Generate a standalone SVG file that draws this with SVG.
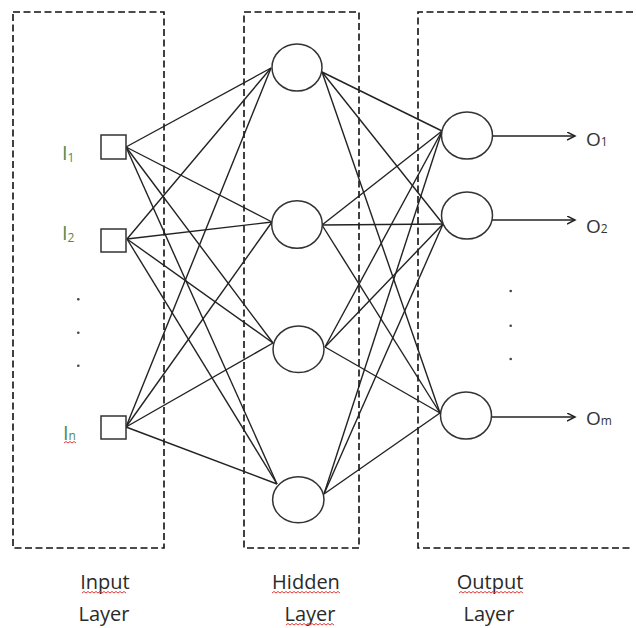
<svg xmlns="http://www.w3.org/2000/svg" width="636" height="628" viewBox="0 0 636 628">
<style>
.box{fill:none;stroke:#111;stroke-width:1.6;stroke-dasharray:7 3.5}
.node{fill:#fff;stroke:#333;stroke-width:1.5}
.conn{stroke:#222;stroke-width:1.4;fill:none}
.lbl{font-family:"Open Sans","Liberation Sans",sans-serif;font-size:20px;fill:#2a2a2a;text-anchor:middle}
.inl{font-family:"Open Sans","Liberation Sans",sans-serif;font-size:20px;fill:#4f8a55}
.outl{font-family:"Open Sans","Liberation Sans",sans-serif;font-size:19px;fill:#333}
.sub{font-size:12px}
.dot{fill:#444}
.squig{fill:none;stroke:#e23a3a;stroke-width:1}
</style>
<defs>
<marker id="arr" markerWidth="10" markerHeight="10" refX="8" refY="4" orient="auto" markerUnits="userSpaceOnUse">
<path d="M0,0 L8,4 L0,8" fill="none" stroke="#222" stroke-width="1.5"/>
</marker>
</defs>
<rect width="636" height="628" fill="#fff"/>

<g id="layer-boxes">
<rect class="box" x="13" y="12" width="151" height="536"/>
<rect class="box" x="244" y="12" width="115" height="536"/>
<path class="box" d="M633,12 H418 V548 H633"/>
</g>

<g id="connectors">
<line class="conn" x1="126" y1="147" x2="271" y2="68"/>
<line class="conn" x1="126" y1="147" x2="272" y2="222"/>
<line class="conn" x1="126" y1="147" x2="273" y2="343"/>
<line class="conn" x1="126" y1="147" x2="277" y2="484"/>
<line class="conn" x1="127" y1="239" x2="271" y2="68"/>
<line class="conn" x1="127" y1="239" x2="272" y2="222"/>
<line class="conn" x1="127" y1="239" x2="273" y2="343"/>
<line class="conn" x1="127" y1="239" x2="277" y2="484"/>
<line class="conn" x1="126" y1="427" x2="271" y2="68"/>
<line class="conn" x1="126" y1="427" x2="272" y2="222"/>
<line class="conn" x1="126" y1="427" x2="273" y2="343"/>
<line class="conn" x1="126" y1="427" x2="277" y2="484"/>
<line class="conn" x1="322" y1="72" x2="442" y2="131"/>
<line class="conn" x1="322" y1="72" x2="443" y2="224"/>
<line class="conn" x1="322" y1="72" x2="440" y2="413"/>
<line class="conn" x1="322" y1="225" x2="442" y2="131"/>
<line class="conn" x1="322" y1="225" x2="443" y2="224"/>
<line class="conn" x1="322" y1="225" x2="440" y2="413"/>
<line class="conn" x1="325" y1="347" x2="442" y2="131"/>
<line class="conn" x1="325" y1="347" x2="443" y2="224"/>
<line class="conn" x1="325" y1="347" x2="440" y2="413"/>
<line class="conn" x1="324" y1="494" x2="442" y2="131"/>
<line class="conn" x1="324" y1="494" x2="443" y2="224"/>
<line class="conn" x1="324" y1="494" x2="440" y2="413"/>
<line class="conn" x1="492" y1="136" x2="575" y2="136" marker-end="url(#arr)"/>
<line class="conn" x1="492" y1="220" x2="575" y2="220" marker-end="url(#arr)"/>
<line class="conn" x1="491" y1="417" x2="575" y2="417" marker-end="url(#arr)"/>
</g>

<g id="input-1"><rect class="node" x="101" y="135" width="25" height="24"/></g>
<g id="input-2"><rect class="node" x="101" y="229" width="25" height="23"/></g>
<g id="input-n"><rect class="node" x="101" y="416" width="25" height="23"/></g>

<g id="hidden-1"><ellipse class="node" cx="297" cy="67.5" rx="25" ry="23.5"/></g>
<g id="hidden-2"><ellipse class="node" cx="297" cy="224.5" rx="25.3" ry="23.8"/></g>
<g id="hidden-3"><ellipse class="node" cx="298.5" cy="349.3" rx="25.5" ry="23.3"/></g>
<g id="hidden-4"><ellipse class="node" cx="298.3" cy="499.7" rx="25.7" ry="23"/></g>

<g id="output-1"><ellipse class="node" cx="467" cy="135.5" rx="25.5" ry="23.5"/></g>
<g id="output-2"><ellipse class="node" cx="467" cy="215.5" rx="25.5" ry="23.5"/></g>
<g id="output-m"><ellipse class="node" cx="466" cy="415.5" rx="25.5" ry="23.5"/></g>

<g id="input-labels">
<text class="inl" x="62" y="160">I<tspan class="sub" dy="2">1</tspan></text>
<text class="inl" x="62" y="240">I<tspan class="sub" dy="2">2</tspan></text>
<text class="inl" x="63" y="440">I<tspan class="sub" dy="0">n</tspan></text>
<circle class="dot" cx="78.3" cy="299.3" r="1.3"/>
<circle class="dot" cx="78.3" cy="332.7" r="1.3"/>
<circle class="dot" cx="78.3" cy="365.7" r="1.3"/>
</g>

<g id="output-labels">
<text class="outl" x="586" y="146">O<tspan class="sub">1</tspan></text>
<text class="outl" x="586" y="233">O<tspan class="sub">2</tspan></text>
<text class="outl" x="586" y="425">O<tspan class="sub">m</tspan></text>
<circle class="dot" cx="510.7" cy="291" r="1.3" fill="#4a6a4a"/>
<circle class="dot" cx="510.7" cy="325.7" r="1.3" fill="#4a6a4a"/>
<circle class="dot" cx="510.7" cy="359" r="1.3" fill="#4a6a4a"/>
</g>

<g id="layer-titles">
<text class="lbl" x="105" y="589">Input</text>
<text class="lbl" x="104" y="621">Layer</text>
<text class="lbl" x="306" y="589" fill="#2f4f3f">Hidden</text>
<text class="lbl" x="310" y="621">Layer</text>
<text class="lbl" x="490" y="589">Output</text>
<text class="lbl" x="489" y="621">Layer</text>
</g>

<g id="spellcheck-marks">
<path class="squig" d="M64,443 l2,-1.5 l2,1.5 l2,-1.5 l2,1.5 l2,-1.5 l2,1.5"/>
<path class="squig" d="M82,593 l2,-1.5 l2,1.5 l2,-1.5 l2,1.5 l2,-1.5 l2,1.5 l2,-1.5 l2,1.5 l2,-1.5 l2,1.5 l2,-1.5 l2,1.5 l2,-1.5 l2,1.5 l2,-1.5 l2,1.5 l2,-1.5 l2,1.5 l2,-1.5 l2,1.5 l2,-1.5 l2,1.5"/>
<path class="squig" d="M272,593 l2,-1.5 l2,1.5 l2,-1.5 l2,1.5 l2,-1.5 l2,1.5 l2,-1.5 l2,1.5 l2,-1.5 l2,1.5 l2,-1.5 l2,1.5 l2,-1.5 l2,1.5 l2,-1.5 l2,1.5 l2,-1.5 l2,1.5 l2,-1.5 l2,1.5 l2,-1.5 l2,1.5 l2,-1.5 l2,1.5 l2,-1.5 l2,1.5 l2,-1.5 l2,1.5 l2,-1.5 l2,1.5 l2,-1.5 l2,1.5 l2,-1.5 l2,1.5"/>
<path class="squig" d="M286,625 l2,-1.5 l2,1.5 l2,-1.5 l2,1.5 l2,-1.5 l2,1.5 l2,-1.5 l2,1.5 l2,-1.5 l2,1.5 l2,-1.5 l2,1.5 l2,-1.5 l2,1.5 l2,-1.5 l2,1.5 l2,-1.5 l2,1.5 l2,-1.5 l2,1.5 l2,-1.5 l2,1.5 l2,-1.5 l2,1.5"/>
<path class="squig" d="M459,593 l2,-1.5 l2,1.5 l2,-1.5 l2,1.5 l2,-1.5 l2,1.5 l2,-1.5 l2,1.5 l2,-1.5 l2,1.5 l2,-1.5 l2,1.5 l2,-1.5 l2,1.5 l2,-1.5 l2,1.5 l2,-1.5 l2,1.5 l2,-1.5 l2,1.5 l2,-1.5 l2,1.5 l2,-1.5 l2,1.5 l2,-1.5 l2,1.5 l2,-1.5 l2,1.5 l2,-1.5 l2,1.5 l2,-1.5 l2,1.5"/>
</g>
</svg>
